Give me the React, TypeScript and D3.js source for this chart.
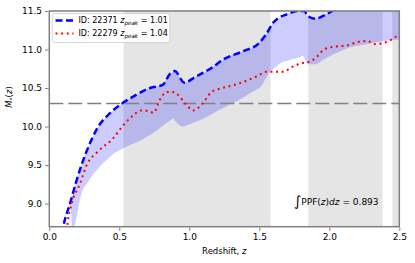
import React, { useEffect, useRef } from "react";
import * as d3 from "d3";

const width = 415;
const height = 263;
const plot = { left: 49.3, right: 399.3, top: 11, bottom: 226.7 };
const blue = "#0000ff";
const red = "#ff0000";
const gray = "#e5e5e5";
const spine = "#7f7f7f";

// redshift / mass pairs
const blueZ = [0.09, 0.1, 0.148, 0.19, 0.23, 0.28, 0.35, 0.42, 0.52, 0.6, 0.72, 0.81, 0.86, 0.895, 0.965, 1.03, 1.1, 1.15, 1.243, 1.386, 1.49, 1.55, 1.6, 1.7, 1.78, 1.82, 1.85, 1.9, 1.96, 2.03, 2.1, 2.3, 2.5];
const blueM = [8.6, 8.7, 9.0, 9.27, 9.5, 9.74, 10.0, 10.15, 10.3, 10.39, 10.5, 10.54, 10.68, 10.72, 10.57, 10.63, 10.7, 10.75, 10.87, 10.98, 11.07, 11.2, 11.35, 11.46, 11.5, 11.5, 11.43, 11.4, 11.44, 11.51, 11.6, 11.75, 11.85];

const redZ = [0.125, 0.131, 0.16, 0.22, 0.267, 0.35, 0.457, 0.53, 0.59, 0.66, 0.71, 0.745, 0.79, 0.84, 0.875, 0.92, 0.97, 1.03, 1.09, 1.16, 1.2, 1.34, 1.48, 1.55, 1.67, 1.73, 1.8, 1.87, 1.93, 1.96, 2.05, 2.12, 2.21, 2.27, 2.33, 2.41, 2.47, 2.5];
const redM = [8.65, 8.75, 9.0, 9.26, 9.5, 9.68, 9.85, 10.02, 10.13, 10.21, 10.2, 10.18, 10.35, 10.45, 10.45, 10.41, 10.3, 10.21, 10.29, 10.45, 10.48, 10.55, 10.65, 10.71, 10.71, 10.77, 10.82, 10.85, 10.94, 11.0, 11.04, 11.05, 11.1, 11.11, 11.07, 11.1, 11.16, 11.21];

// lower edge of the shaded band (upper edge is the blue curve)
const lowZ = [0.17, 0.18, 0.23, 0.3, 0.386, 0.47, 0.53, 0.64, 0.73, 0.79, 0.84, 0.886, 0.92, 0.957, 1.03, 1.1, 1.22, 1.36, 1.5, 1.58, 1.67, 1.79, 1.81, 1.85, 1.9, 2.03, 2.15, 2.27, 2.39, 2.5];
const lowM = [8.6, 8.7, 9.13, 9.35, 9.53, 9.66, 9.72, 9.81, 9.9, 9.98, 10.05, 10.1, 10.03, 10.0, 10.05, 10.1, 10.22, 10.35, 10.5, 10.72, 10.84, 10.9, 10.92, 10.81, 10.81, 10.94, 11.03, 11.07, 11.11, 11.13];

const grayStart = [0.53, 1.85, 2.45];
const grayEnd = [1.58, 2.38, 2.5];

const xTicks = [0, 0.5, 1.0, 1.5, 2.0, 2.5];
const yTicks = [9.0, 9.5, 10.0, 10.5, 11.0, 11.5];
const refMass = 10.3;

const xScale = d3.scaleLinear().domain([0, 2.5]).range([plot.left, plot.right]);
const yScale = d3.scaleLinear().domain([8.7, 11.5]).range([plot.bottom, plot.top]);

const line = d3
  .line<[number, number]>()
  .x(d => xScale(d[0]))
  .y(d => yScale(d[1]))
  .curve(d3.curveMonotoneX);

const area = d3
  .area<[number, number, number]>()
  .x(d => xScale(d[0]))
  .y0(d => yScale(d[1]))
  .y1(d => yScale(d[2]))
  .curve(d3.curveMonotoneX);

const bluePts: [number, number][] = blueZ.map((z, i) => [z, blueM[i]]);
const redPts: [number, number][] = redZ.map((z, i) => [z, redM[i]]);

// band: from the lower edge up to the blue curve, sampled on the union of both z grids
const bandZ = Array.from(new Set([...blueZ, ...lowZ])).sort((a, b) => a - b);
const upperAt = d3.scaleLinear().domain(blueZ).range(blueM).clamp(true);
const lowerAt = d3.scaleLinear().domain(lowZ).range(lowM);
const bandPts: [number, number, number][] = bandZ.map(z => [z, z < lowZ[0] ? upperAt(z) : lowerAt(z), upperAt(z)]);

const font = "DejaVu Sans, sans-serif";

export default function App() {
  const xAxisRef = useRef<SVGGElement>(null);
  const yAxisRef = useRef<SVGGElement>(null);

  useEffect(() => {
    const xAxis = d3.axisBottom(xScale).tickValues(xTicks).tickFormat(d3.format(".1f")).tickSize(3.5).tickPadding(3);
    const yAxis = d3.axisLeft(yScale).tickValues(yTicks).tickFormat(d3.format(".1f")).tickSize(3.5).tickPadding(3);
    const gx = d3.select(xAxisRef.current).call(xAxis);
    const gy = d3.select(yAxisRef.current).call(yAxis);
    [gx, gy].forEach(g => {
      g.select(".domain").remove();
      g.selectAll("line").attr("stroke", spine).attr("stroke-width", 1);
      g.selectAll("text").attr("font-family", font).attr("font-size", 9).attr("fill", "#000");
    });
  }, []);

  return (
    <svg width={width} height={height} style={{ position: "absolute", left: 0, top: 0, background: "#fff" }}>
      <defs>
        <clipPath id="plotclip">
          <rect x={plot.left} y={plot.top} width={plot.right - plot.left} height={plot.bottom - plot.top} />
        </clipPath>
      </defs>
      <g clipPath="url(#plotclip)">
        {grayStart.map((s, i) => (
          <rect key={i} x={xScale(s)} y={plot.top} width={xScale(grayEnd[i]) - xScale(s)} height={plot.bottom - plot.top} fill={gray} />
        ))}
        <path d={area(bandPts) || ""} fill="rgba(0,0,255,0.2)" stroke="none" />
        <line x1={plot.left} x2={plot.right} y1={yScale(refMass)} y2={yScale(refMass)} stroke="#808080" strokeWidth={1.5} strokeDasharray="14,5" />
        <path d={line(bluePts) || ""} fill="none" stroke={blue} strokeWidth={2.5} strokeDasharray="7,3.5" />
        <path d={line(redPts) || ""} fill="none" stroke={red} strokeWidth={2} strokeDasharray="2,3.6" />
      </g>
      <rect x={plot.left} y={plot.top} width={plot.right - plot.left} height={plot.bottom - plot.top} fill="none" stroke={spine} strokeWidth={1.5} />
      <g ref={xAxisRef} transform={`translate(0, ${plot.bottom + 0.75})`} />
      <g ref={yAxisRef} transform={`translate(${plot.left - 0.75}, 0)`} />

      {/* legend */}
      <g fontFamily={font} fontSize={8}>
        <rect x={52.3} y={13.5} width={117.5} height={29} rx={2} fill="#fff" fillOpacity={0.85} stroke="#cccccc" strokeWidth={0.8} />
        <line x1={55.5} x2={73.5} y1={20.5} y2={20.5} stroke={blue} strokeWidth={2.5} strokeDasharray="7,3.5" />
        <line x1={55.5} x2={73.5} y1={33.5} y2={33.5} stroke={red} strokeWidth={2} strokeDasharray="2,3.6" />
        <text x={78.5} y={23.3}>
          ID: 22371 <tspan fontStyle="italic">z</tspan>
          <tspan fontStyle="italic" fontSize={5.6} dy={1.5}>peak</tspan>
          <tspan dy={-1.5}> = 1.01</tspan>
        </text>
        <text x={78.5} y={36.3}>
          ID: 22279 <tspan fontStyle="italic">z</tspan>
          <tspan fontStyle="italic" fontSize={5.6} dy={1.5}>peak</tspan>
          <tspan dy={-1.5}> = 1.04</tspan>
        </text>
      </g>

      {/* annotation */}
      <text x={294} y={204.5} fontFamily={font} fontSize={9}>
        <tspan fontSize={14} dy={1.5}>∫</tspan>
        <tspan dy={-1.5}>PPF(</tspan>
        <tspan fontStyle="italic">z</tspan>)<tspan fontStyle="italic">dz</tspan> = 0.893
      </text>

      {/* axis labels */}
      <text x={(plot.left + plot.right) / 2} y={254} textAnchor="middle" fontFamily={font} fontSize={8.5}>
        Redshift, <tspan fontStyle="italic">z</tspan>
      </text>
      <text transform="translate(12, 97) rotate(-90)" textAnchor="middle" fontFamily={font} fontSize={8.5}>
        <tspan fontStyle="italic">M</tspan>
        <tspan fontSize={6} dy={1.5}>*</tspan>
        <tspan dy={-1.5}>(</tspan>
        <tspan fontStyle="italic">z</tspan>)
      </text>
    </svg>
  );
}
